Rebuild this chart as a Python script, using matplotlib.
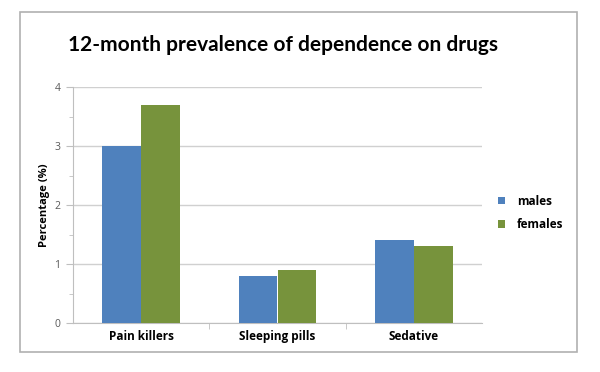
import matplotlib
matplotlib.use("Agg")
import matplotlib.pyplot as plt
from matplotlib.patches import Rectangle
import numpy as np

categories = ["Pain killers", "Sleeping pills", "Sedative"]
males = [3.0, 0.8, 1.4]
females = [3.7, 0.9, 1.3]
series_names = ["males", "females"]
yticks = [0, 1, 2, 3, 4]

plt.rcParams['font.family'] = ['Open Sans', 'DejaVu Sans']

fig = plt.figure(figsize=(6, 3.72), dpi=100)
fig.patch.set_facecolor("white")
fig.patches.append(Rectangle((20/600, 1-352/372), 557/600, 340/372, transform=fig.transFigure,
                             fill=False, edgecolor="#B0B0B0", linewidth=1.2))

ax = fig.add_axes([73/600, 1-323/372, 409/600, 236/372])
x = np.arange(len(categories))
w = 0.285
ax.bar(x - w/2, males, w, color="#4F81BD", label=series_names[0], zorder=3)
ax.bar(x + w/2, females, w, color="#77933C", label=series_names[1], zorder=3)

ax.set_xlim(-0.5, len(categories) - 0.5)
ax.set_ylim(0, 4)
ax.set_yticks(yticks)
ax.set_yticks(np.arange(0.5, 4, 1.0), minor=True)
ax.yaxis.grid(True, color="#D0D0D0", linewidth=1, zorder=0)
ax.set_axisbelow(True)
for s in ["top", "right"]:
    ax.spines[s].set_visible(False)
ax.spines["left"].set_color("#BFBFBF")
ax.spines["bottom"].set_color("#BFBFBF")
ax.tick_params(axis="y", which="major", length=5, color="#BFBFBF", labelcolor="#595959", labelsize=7.5, pad=4)
ax.tick_params(axis="y", which="minor", length=3, color="#BFBFBF")
ax.set_xticks(x)
ax.set_xticklabels(categories, fontsize=8.5, fontweight="bold")
ax.tick_params(axis="x", which="major", length=0, pad=5)
ax.set_xticks([0.5, 1.5], minor=True)
ax.tick_params(axis="x", which="minor", length=4, color="#BFBFBF")
ax.set_ylabel("Percentage (%)", fontsize=8, fontweight="bold", labelpad=3)

fig.text(283/600, 1-45/372, "12-month prevalence of dependence on drugs", fontsize=15,
         fontweight="bold", family=["Lato", "DejaVu Sans"], ha="center", va="center", color="black")

ax.legend(loc="center left", bbox_to_anchor=((498-73)/409, (323-213)/236), frameon=False,
          handlelength=0.6, handleheight=0.6, handletextpad=1.0, labelspacing=0.9,
          borderpad=0, borderaxespad=0, prop={"weight": "bold", "size": 8.5})

fig.savefig("out.png", dpi=100, facecolor="white")
